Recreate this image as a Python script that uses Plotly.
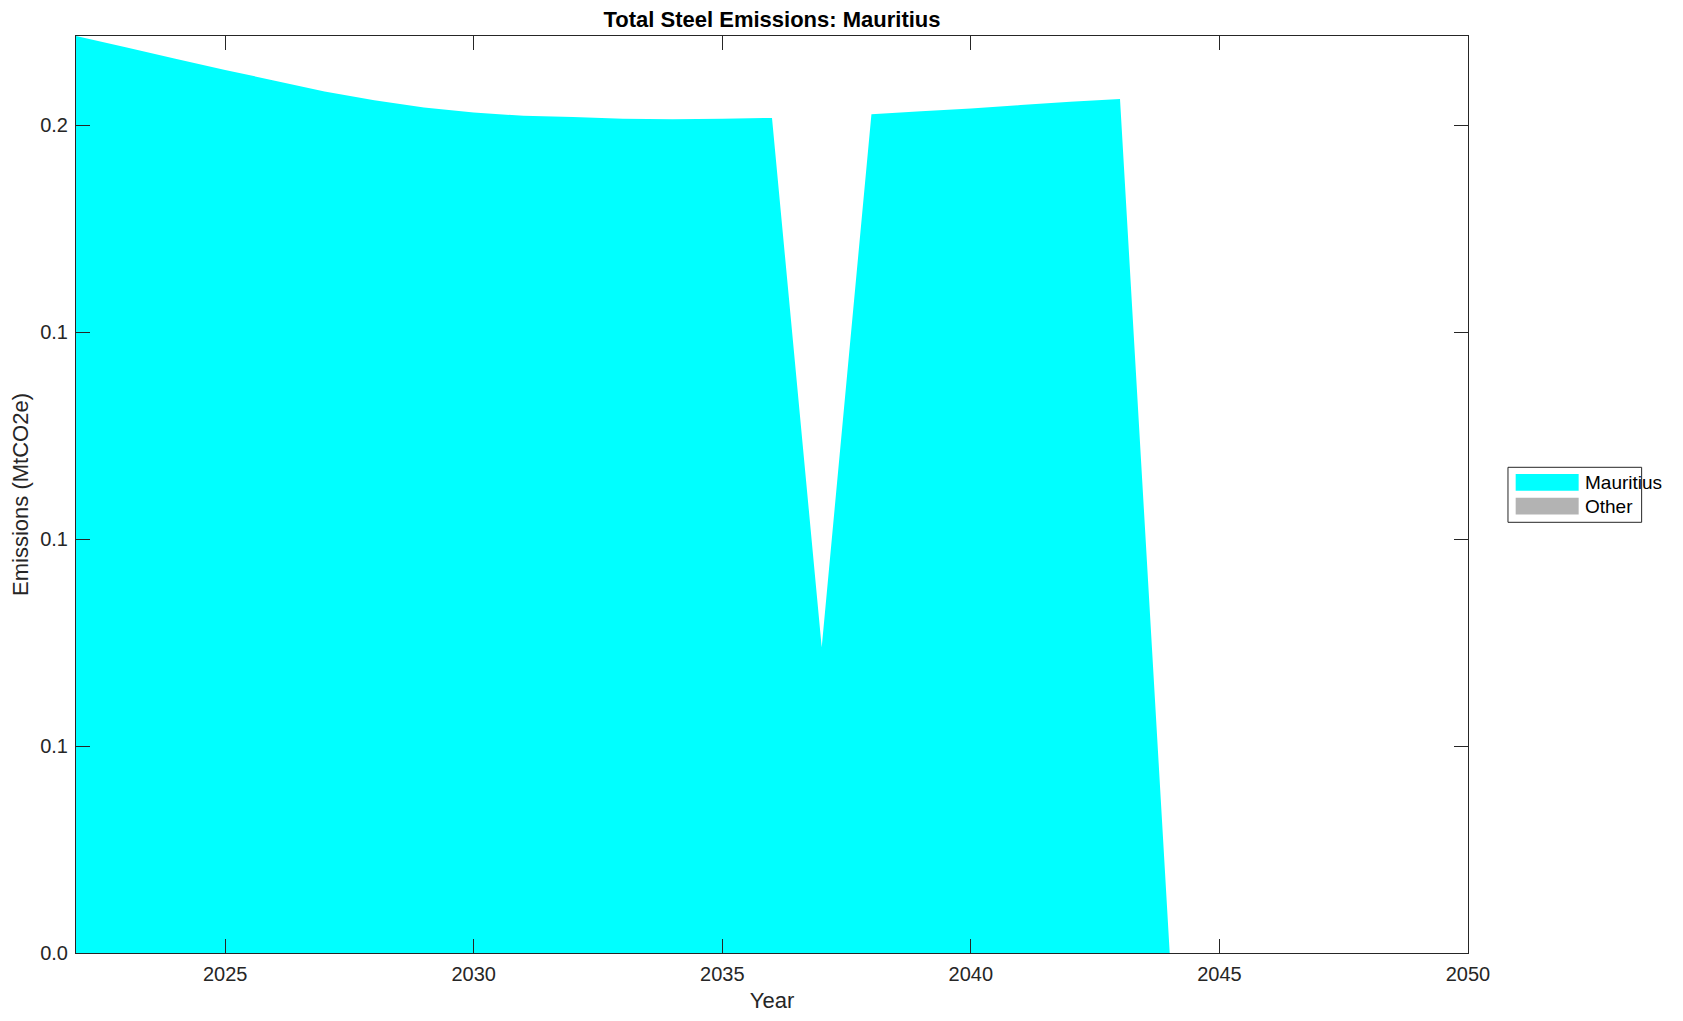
import plotly.graph_objects as go

YEARS = list(range(2022, 2051))
MAURITIUS = [
    0.2216, 0.2189, 0.2161, 0.2134, 0.2108, 0.2082, 0.2061, 0.2043, 0.2031,
    0.2023, 0.2020, 0.2016, 0.2015, 0.2016, 0.2018, 0.0739, 0.2027, 0.2034,
    0.2041, 0.2049, 0.2057, 0.2064, 0.0, 0.0, 0.0, 0.0, 0.0, 0.0, 0.0,
]
OTHER = [0.0] * len(YEARS)

Y_TICKS = [0.0, 0.05, 0.10, 0.15, 0.20]
Y_TICK_LABELS = ["0.0", "0.1", "0.1", "0.1", "0.2"]
X_TICKS = [2025, 2030, 2035, 2040, 2045, 2050]

SERIES_NAMES = ["Mauritius", "Other"]
COLOR_MAURITIUS = "#00FFFF"
COLOR_OTHER = "#B3B3B3"
COLOR_AXIS = "#262626"
FONT = "Arial, Liberation Sans, Helvetica, sans-serif"

# page is 1683x1021 but the html body keeps an 8px margin
BODY = 8
W, H = 1683 - 2 * BODY, 1021 - 2 * BODY
PLOT_L, PLOT_R, PLOT_T, PLOT_B = 75.7, 1468.3, 36.0, 953.0  # page pixels


def px_x(x):
    return (x - PLOT_L) / (PLOT_R - PLOT_L)


def px_y(y):
    return (PLOT_B - y) / (PLOT_B - PLOT_T)


fig = go.Figure()
fig.add_trace(
    go.Scatter(
        x=YEARS, y=MAURITIUS, name=SERIES_NAMES[0], stackgroup="one",
        mode="none", fillcolor=COLOR_MAURITIUS, showlegend=False,
    )
)
fig.add_trace(
    go.Scatter(
        x=YEARS, y=OTHER, name=SERIES_NAMES[1], stackgroup="one",
        mode="none", fillcolor=COLOR_OTHER, showlegend=False,
    )
)

axis_common = dict(
    showline=True, linecolor=COLOR_AXIS, linewidth=1, mirror="allticks",
    ticks="inside", ticklen=14, tickcolor=COLOR_AXIS, tickwidth=1,
    showgrid=False, zeroline=False, automargin=False,
    tickfont={"size": 20, "color": COLOR_AXIS, "family": FONT},
)
fig.update_xaxes(
    range=[2022, 2050], tickvals=X_TICKS, ticklabelstandoff=3,
    title={"text": "Year", "font": {"size": 22, "color": COLOR_AXIS}, "standoff": 10},
    **axis_common,
)
fig.update_yaxes(
    range=[0, 0.2216], tickvals=Y_TICKS, ticktext=Y_TICK_LABELS, ticklabelstandoff=3,
    title={"text": "Emissions (MtCO2e)", "font": {"size": 22, "color": COLOR_AXIS}, "standoff": 6},
    **axis_common,
)

# legend drawn by hand (MATLAB-style wide swatches)
shapes = [
    dict(type="rect", xref="paper", yref="paper",
         x0=px_x(1508.3), x1=px_x(1642), y0=px_y(522.3), y1=px_y(467.3),
         line={"color": COLOR_AXIS, "width": 1}, fillcolor="white"),
]
annotations = []
for i, (name, color) in enumerate(zip(SERIES_NAMES, [COLOR_MAURITIUS, COLOR_OTHER])):
    top = 474 + i * 23.7
    shapes.append(dict(type="rect", xref="paper", yref="paper",
                       x0=px_x(1516), x1=px_x(1579), y0=px_y(top + 16.7), y1=px_y(top),
                       line={"width": 0}, fillcolor=color))
    annotations.append(dict(text=name, xref="paper", yref="paper",
                            x=px_x(1583), y=px_y(top + 8.3), xanchor="left", yanchor="middle",
                            showarrow=False, font={"size": 19, "color": "black", "family": FONT}))

fig.update_layout(
    width=W, height=H,
    margin={"l": PLOT_L - BODY, "r": W - (PLOT_R - BODY), "t": PLOT_T - BODY,
            "b": H - (PLOT_B - BODY), "pad": 0},
    paper_bgcolor="white", plot_bgcolor="white",
    font={"family": FONT, "color": COLOR_AXIS},
    title={"text": "<b>Total Steel Emissions: Mauritius</b>", "x": 0.5, "xref": "paper",
           "y": 1 - (19 - BODY) / H, "yanchor": "middle",
           "font": {"size": 22, "color": "black", "family": FONT}},
    shapes=shapes, annotations=annotations,
    showlegend=False,
)

fig.write_html("out.html")
